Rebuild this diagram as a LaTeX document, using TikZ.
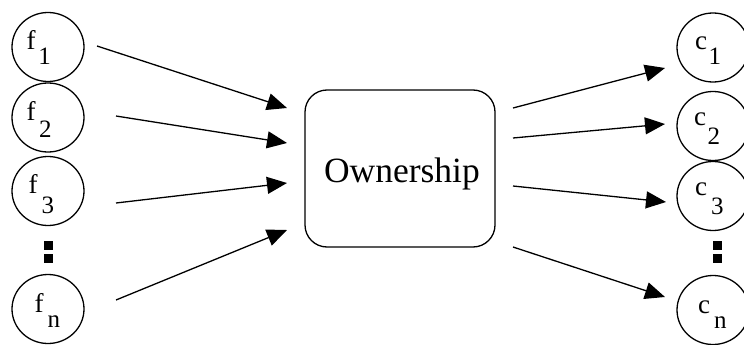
\documentclass[tikz,border=0pt]{standalone}
\usepackage{fontspec}
\setmainfont{Liberation Serif}
\usetikzlibrary{arrows.meta,shapes.geometric}
\tikzset{
  party/.style={ellipse, draw, line width=1.3pt, minimum width=72pt, minimum height=69pt, inner sep=0pt},
  letter/.style={anchor=base west, inner sep=0pt, font=\fontsize{27}{27}\selectfont},
  subscr/.style={anchor=base west, inner sep=0pt, font=\fontsize{25}{25}\selectfont},
  dotmark/.style={rectangle, fill=black, minimum size=9pt, inner sep=0pt},
  hub/.style={draw, line width=1.3pt, rounded corners=22pt, minimum width=190pt,
              minimum height=157pt, inner sep=0pt},
  hubtext/.style={anchor=base west, inner sep=0pt, font=\fontsize{35.5}{35.5}\selectfont},
  flow/.style={line width=1.3pt, -{Triangle[length=20pt,width=17pt]}}
}
\begin{document}
\begin{tikzpicture}[x=1pt, y=-1pt]
\useasboundingbox (0,0) rectangle (744,345);

% left column: f nodes
\node[party] (f1) at (48,47) {};
\node[party] (f2) at (48,117.5) {};
\node[party] (f3) at (48,191) {};
\node[party] (fn) at (48,309) {};
\node[letter] (lf1) at (26.5,49) {f};  \node[subscr] (sf1) at (38.2,65) {1};
\node[letter] (lf2) at (26.5,120) {f}; \node[subscr] (sf2) at (39,137) {2};
\node[letter] (lf3) at (28.5,193) {f}; \node[subscr] (sf3) at (41.3,213) {3};
\node[letter] (lfn) at (34.5,312) {f}; \node[subscr] (sfn) at (47.5,327) {n};
\node[dotmark] (ld1) at (48,245) {};
\node[dotmark] (ld2) at (48,258.5) {};

% central box
\node[hub] (own) at (400,168.5) {};
\node[hubtext] (ownt) at (323.8,182) {Ownership};

% right column: c nodes
\node[party] (c1) at (713,47.5) {};
\node[party] (c2) at (713,126) {};
\node[party] (c3) at (713,196) {};
\node[party] (cn) at (713,310) {};
\node[letter] (lc1) at (695,50) {c};  \node[subscr] (sc1) at (708.5,64) {1};
\node[letter] (lc2) at (694,125) {c}; \node[subscr] (sc2) at (707.5,144) {2};
\node[letter] (lc3) at (695,195) {c}; \node[subscr] (sc3) at (711,214) {3};
\node[letter] (lcn) at (698,313) {c}; \node[subscr] (scn) at (714,328) {n};
\node[dotmark] (rd1) at (717,245) {};
\node[dotmark] (rd2) at (717,258.5) {};

% arrow end points
\coordinate (a1s) at (97,46);   \coordinate (a1e) at (287,108);
\coordinate (a2s) at (116,116); \coordinate (a2e) at (287,143);
\coordinate (a3s) at (116,203); \coordinate (a3e) at (287,183);
\coordinate (a4s) at (116,300); \coordinate (a4e) at (287,230);
\coordinate (b1s) at (513,108); \coordinate (b1e) at (665,68);
\coordinate (b2s) at (513,138); \coordinate (b2e) at (665,124);
\coordinate (b3s) at (513,186); \coordinate (b3e) at (666,202);
\coordinate (b4s) at (513,247); \coordinate (b4e) at (665,297);

\draw[flow] (a1s) -- (a1e);
\draw[flow] (a2s) -- (a2e);
\draw[flow] (a3s) -- (a3e);
\draw[flow] (a4s) -- (a4e);
\draw[flow] (b1s) -- (b1e);
\draw[flow] (b2s) -- (b2e);
\draw[flow] (b3s) -- (b3e);
\draw[flow] (b4s) -- (b4e);
\end{tikzpicture}
\end{document}
